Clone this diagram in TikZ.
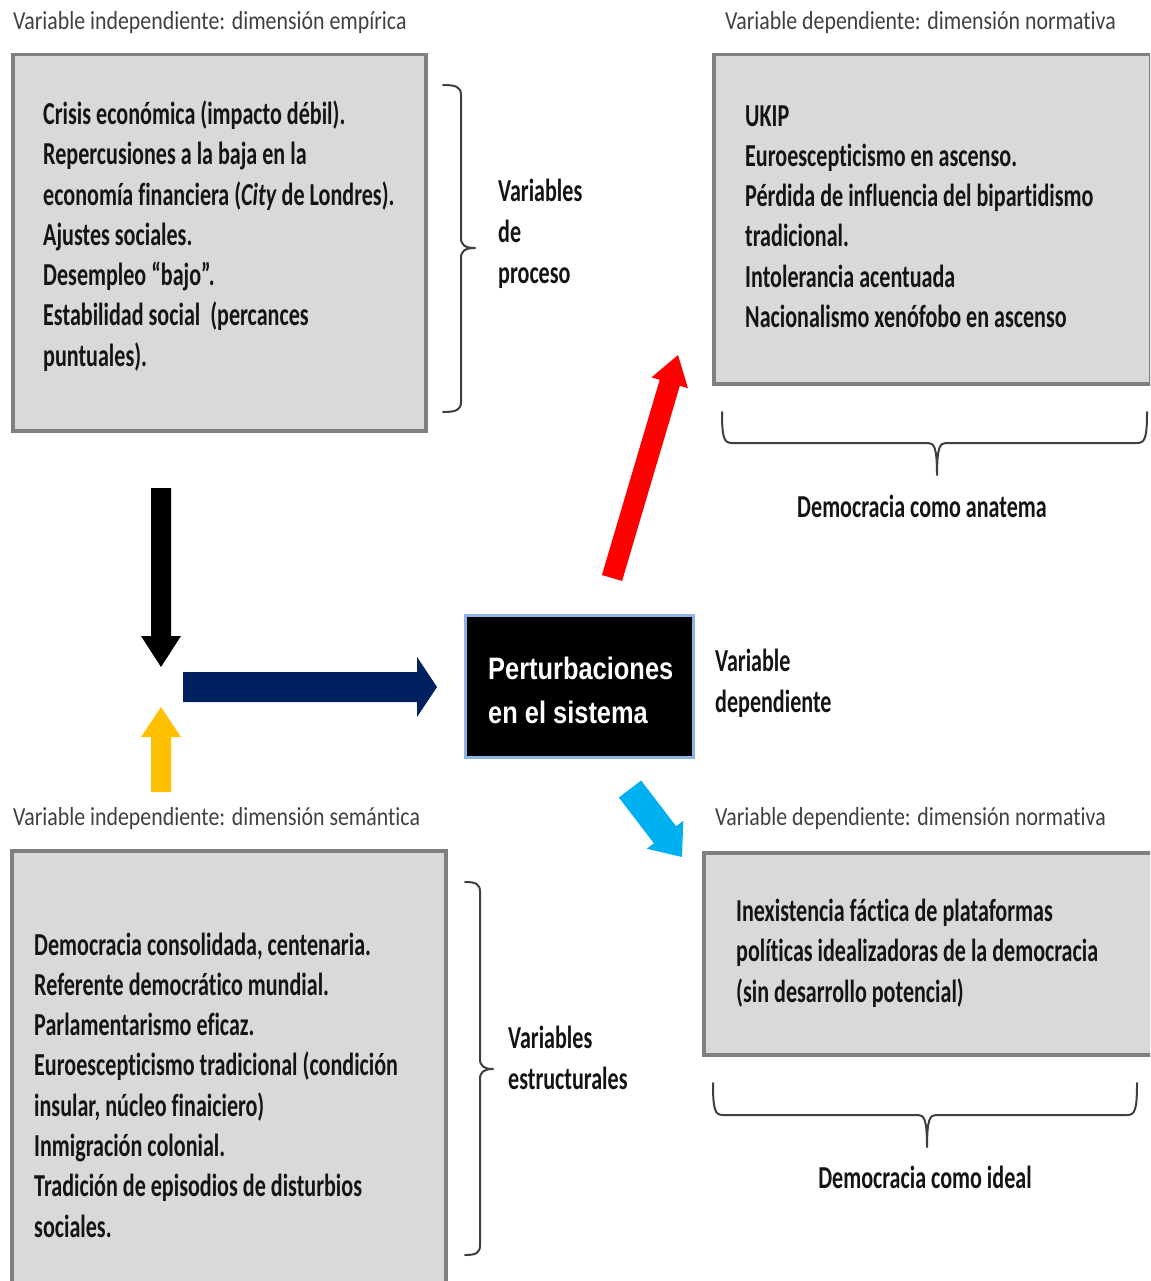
\documentclass[tikz,border=0pt]{standalone}
\usepackage{fontspec}
\setmainfont{Carlito}
\newfontfamily\bodyfont[FakeStretch=0.69, Ligatures={NoCommon,NoContextual}]{Carlito}
\newfontfamily\headfont[FakeStretch=0.84, Ligatures={NoCommon,NoContextual}]{Carlito}
\newfontfamily\boxfont[FakeStretch=0.82]{Liberation Sans}
\usetikzlibrary{calc}

\definecolor{boxfill}{HTML}{D9D9D9}
\definecolor{boxline}{HTML}{7F7F7F}
\definecolor{headgray}{HTML}{404040}
\definecolor{inktext}{HTML}{141414}
\definecolor{bracegray}{HTML}{3F3F3F}
\definecolor{navyarrow}{HTML}{002060}
\definecolor{goldarrow}{HTML}{FFC000}
\definecolor{redarrow}{HTML}{FF0000}
\definecolor{cyanarrow}{HTML}{00B0F0}
\definecolor{glowblue}{HTML}{8DB4E2}

% block arrow: #1 colour, #2 tail, #3 tip, #4 half shaft, #5 half head, #6 head length
\newcommand\blockarrow[6]{%
  \coordinate (ba-base) at ($(#3)!#6!(#2)$);
  \fill[#1] ($(#2)!#4!90:(#3)$) -- ($(ba-base)!#4!90:(#3)$)
    -- ($(ba-base)!#5!90:(#3)$) -- (#3)
    -- ($(ba-base)!#5!-90:(#3)$) -- ($(ba-base)!#4!-90:(#3)$)
    -- ($(#2)!#4!-90:(#3)$) -- cycle;
}

\tikzset{
  panel/.style={draw=boxline, fill=boxfill, line width=3.5pt, inner sep=0pt, anchor=north west},
  body/.style={font=\fontsize{32}{40.3}\selectfont\bodyfont\bfseries, text=inktext,
    align=left, inner sep=0pt, anchor=west},
  head/.style={font=\fontsize{26}{30}\selectfont\headfont, text=headgray, inner sep=0pt, anchor=west},
  caption/.style={font=\fontsize{32}{41}\selectfont\bodyfont\bfseries, text=inktext,
    align=left, inner sep=0pt},
  brace/.style={draw=bracegray, line width=2pt, line cap=round, line join=round},
}

\begin{document}
\begin{tikzpicture}[x=1pt, y=-1pt]
\useasboundingbox (0,0) rectangle (1150,1281);
\clip (0,0) rectangle (1150,1281);

% headings
\node[head] (h1) at (13,23) {Variable independiente: dimensión empírica};
\node[head] (h2) at (725,23) {Variable dependiente: dimensión normativa};
\node[head] (h3) at (13,819) {Variable independiente: dimensión semántica};
\node[head] (h4) at (715,819) {Variable dependiente: dimensión normativa};

% grey panels
\node[panel, minimum width=413pt, minimum height=376pt] (emp) at (11,53) {};
\node[panel, minimum width=437pt, minimum height=329pt] (norm1) at (712,53) {};
\node[panel, minimum width=434pt, minimum height=460pt] (sem) at (10,849) {};
\node[panel, minimum width=470pt, minimum height=202pt] (norm2) at (702,851) {};

\node[body] (empt) at (43,236) {Crisis económica (impacto débil).\\
Repercusiones a la baja en la\\
economía financiera (\textit{City} de Londres).\\
Ajustes sociales.\\
Desempleo “bajo”.\\
Estabilidad social\ \ (percances\\
puntuales).};

\node[body] (norm1t) at (745,216.5) {UKIP\\
Euroescepticismo en ascenso.\\
Pérdida de influencia del bipartidismo\\
tradicional.\\
Intolerancia acentuada\\
Nacionalismo xenófobo en ascenso};

\node[body] (semt) at (34,1085) {Democracia consolidada, centenaria.\\
Referente democrático mundial.\\
Parlamentarismo eficaz.\\
Euroescepticismo tradicional (condición\\
insular, núcleo finaiciero)\\
Inmigración colonial.\\
Tradición de episodios de disturbios\\
sociales.};

\node[body] (norm2t) at (736,953) {Inexistencia fáctica de plataformas\\
políticas idealizadoras de la democracia\\
(sin desarrollo potencial)};

% central box
\node[draw=glowblue, fill=black, line width=3pt, minimum width=228pt, minimum height=142pt,
  anchor=north west, inner sep=0pt] (pert) at (464,614) {};
\node[font=\fontsize{31}{44}\selectfont\boxfont\bfseries, text=white, align=left,
  inner sep=0pt, anchor=west] (pertt) at (488,690) {Perturbaciones\\en el sistema};

% braces
\draw[brace] (443,85) .. controls (456,85) and (461,87) .. (461,95) -- (461,238)
  .. controls (461,245) and (465,248) .. (475,248)
  .. controls (465,248) and (461,251) .. (461,258) -- (461,402)
  .. controls (461,410) and (456,412) .. (443,412);
\draw[brace] (465,882) .. controls (476,882) and (480,884) .. (480,892) -- (480,1059)
  .. controls (480,1066) and (484,1069) .. (493,1069)
  .. controls (484,1069) and (480,1072) .. (480,1079) -- (480,1245)
  .. controls (480,1253) and (476,1255) .. (465,1255);
\draw[brace] (722,412) .. controls (722,438) and (724,443) .. (732,443) -- (928,443)
  .. controls (934,443) and (937,447) .. (937,475)
  .. controls (937,447) and (940,443) .. (946,443) -- (1137,443)
  .. controls (1145,443) and (1147,438) .. (1147,412);
\draw[brace] (713,1083) .. controls (713,1110) and (715,1115) .. (723,1115) -- (918,1115)
  .. controls (924,1115) and (927,1119) .. (927,1147)
  .. controls (927,1119) and (930,1115) .. (936,1115) -- (1127,1115)
  .. controls (1135,1115) and (1137,1110) .. (1137,1083);

% side captions
\node[caption, anchor=west] (proc) at (498,234) {Variables\\de\\proceso};
\node[caption, anchor=west] (estr) at (508,1057.5) {Variables\\estructurales};
\node[caption, anchor=west] (vdep) at (715,683) {Variable\\dependiente};
\node[caption] (anat) at (922,506) {Democracia como anatema};
\node[caption] (ideal) at (925,1177) {Democracia como ideal};

% block arrows
\coordinate (blk-a) at (161,488); \coordinate (blk-b) at (161,667);
\coordinate (gld-a) at (161,792); \coordinate (gld-b) at (161,707);
\coordinate (nav-a) at (183,687); \coordinate (nav-b) at (437,687);
\coordinate (red-a) at (612,578); \coordinate (red-b) at (678,355);
\coordinate (cyn-a) at (630,789); \coordinate (cyn-b) at (682,857);
\blockarrow{black}{blk-a}{blk-b}{10pt}{20pt}{31pt}
\blockarrow{goldarrow}{gld-a}{gld-b}{10pt}{20pt}{30pt}
\blockarrow{navyarrow}{nav-a}{nav-b}{15pt}{30pt}{20pt}
\blockarrow{redarrow}{red-a}{red-b}{10.5pt}{19pt}{29pt}
\blockarrow{cyanarrow}{cyn-a}{cyn-b}{14pt}{23pt}{28pt}
\end{tikzpicture}
\end{document}
